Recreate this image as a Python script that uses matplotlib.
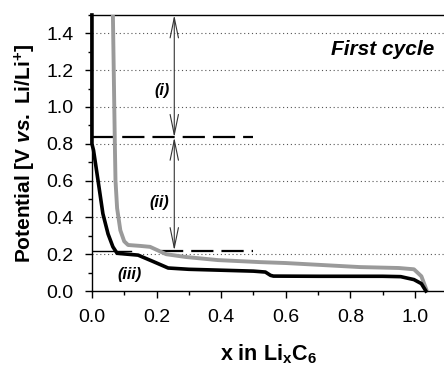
import numpy as np
import matplotlib
matplotlib.use('Agg')
import matplotlib.pyplot as plt
from matplotlib.ticker import MultipleLocator

plt.rcParams['font.family'] = ['Liberation Sans', 'DejaVu Sans']
plt.rcParams['mathtext.fontset'] = 'custom'
plt.rcParams['mathtext.rm'] = 'Liberation Sans:bold'
plt.rcParams['mathtext.it'] = 'Liberation Sans:bold:italic'
plt.rcParams['mathtext.bf'] = 'Liberation Sans:bold'

# first cycle, black curve (discharge / lithiation)
x_black = [0.0, 0.0, 0.005, 0.019, 0.034, 0.05, 0.065, 0.078, 0.11, 0.143,
           0.19, 0.236, 0.3, 0.4, 0.5, 0.537, 0.553, 0.562, 0.7, 0.9, 0.956,
           0.997, 1.02, 1.034]
y_black = [1.5, 0.8, 0.765, 0.60, 0.42, 0.31, 0.24, 0.205, 0.2, 0.195,
           0.16, 0.125, 0.118, 0.113, 0.108, 0.103, 0.085, 0.081, 0.08, 0.08,
           0.078, 0.062, 0.04, 0.0]

# gray curve
x_gray = [0.065, 0.071, 0.073, 0.078, 0.088, 0.1, 0.112, 0.15, 0.18, 0.23, 0.29,
          0.39, 0.52, 0.6, 0.83, 0.95, 0.997, 1.02, 1.037]
y_gray = [1.5, 0.8, 0.6, 0.45, 0.33, 0.27, 0.25, 0.245, 0.24, 0.2, 0.185,
          0.168, 0.157, 0.152, 0.13, 0.125, 0.118, 0.08, 0.0]

level_hi = 0.835
level_lo = 0.22
arrow_x = 0.255

fig = plt.figure(figsize=(4.44, 3.70), dpi=100)
ax = fig.add_axes([0.207, 0.2135, 0.793, 0.746])

ax.set_xlim(0, 1.09)
ax.set_ylim(0, 1.5)

# dotted grid
for yy in [0.2, 0.4, 0.6, 0.8, 1.0, 1.2, 1.4]:
    ax.axhline(yy, color='#555555', lw=0.8, ls=(0, (1, 2.5)), zorder=1)

ax.plot(x_gray, y_gray, color='#9a9a9a', lw=2.8, zorder=3)
ax.plot(x_black, y_black, color='black', lw=2.6, zorder=4, clip_on=False)

# level lines
ax.plot([0, 0.5], [level_hi, level_hi], color='black', lw=1.6,
        dashes=(10, 3.6), zorder=2)
ax.plot([0, 0.12], [level_lo, level_lo], color='black', lw=1.0, zorder=2)
ax.plot([0.215, 0.5], [level_lo, level_lo], color='black', lw=1.6,
        dashes=(10, 3.6), zorder=2)

# double arrows
for y0, y1 in [(1.5, level_hi), (level_hi, level_lo)]:
    ax.annotate('', xy=(arrow_x, y1), xytext=(arrow_x, y0),
                arrowprops=dict(arrowstyle='<->, head_length=1.45, head_width=0.3',
                                color='#333333', lw=0.8, shrinkA=0, shrinkB=0,
                                mutation_scale=10))

ax.text(0.217, 1.09, '(i)', fontsize=11.5, fontweight='bold', style='italic',
        ha='center', va='center')
ax.text(0.21, 0.483, '(ii)', fontsize=11.5, fontweight='bold', style='italic',
        ha='center', va='center')
ax.text(0.118, 0.092, '(iii)', fontsize=11.5, fontweight='bold', style='italic',
        ha='center', va='center')
ax.text(1.06, 1.31, 'First cycle', fontsize=15, fontweight='bold', style='italic',
        ha='right', va='center')

ax.spines['right'].set_visible(False)
for s in ['left', 'bottom', 'top']:
    ax.spines[s].set_linewidth(1.0)

ax.xaxis.set_minor_locator(MultipleLocator(0.1))
ax.yaxis.set_minor_locator(MultipleLocator(0.1))
ax.set_xticks([0.0, 0.2, 0.4, 0.6, 0.8, 1.0])
ax.set_xticklabels(['0.0', '0.2', '0.4', '0.6', '0.8', '1.0'])
ax.set_yticks([0.0, 0.2, 0.4, 0.6, 0.8, 1.0, 1.2, 1.4])
ax.set_yticklabels(['0.0', '0.2', '0.4', '0.6', '0.8', '1.0', '1.2', '1.4'])
ax.tick_params(which='major', direction='out', length=5, width=1, labelsize=14, pad=8)
ax.tick_params(which='minor', direction='out', length=3, width=1)
ax.tick_params(top=False, right=False, which='both')

ax.set_xlabel(r'x in Li$_\mathrm{x}$C$_\mathrm{6}$', fontsize=15.5, fontweight='bold', labelpad=12)
ax.set_ylabel(r'Potential [V $\mathit{vs.}$ Li/Li$^\mathrm{+}$]', fontsize=15,
              fontweight='bold', labelpad=6)

fig.savefig('out.png', dpi=100)
